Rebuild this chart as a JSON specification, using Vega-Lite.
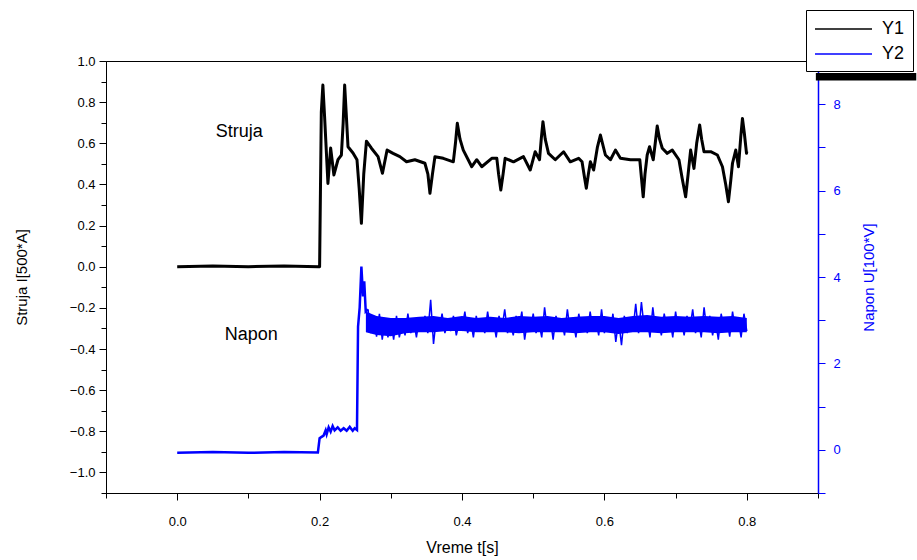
{
  "$schema": "https://vega.github.io/schema/vega-lite/v6.json",
  "width": 712,
  "height": 432,
  "autosize": {"type": "none"},
  "padding": {"left": 106, "top": 61, "right": 99, "bottom": 67},
  "background": "white",
  "config": {
    "view": {"stroke": "black", "strokeWidth": 1},
    "font": "Liberation Sans",
    "axis": {
      "grid": false,
      "labelFont": "Liberation Sans",
      "titleFont": "Liberation Sans",
      "titleFontWeight": "normal",
      "labelFontSize": 13,
      "titleFontSize": 15,
      "domainColor": "black",
      "tickColor": "black",
      "labelColor": "black",
      "titleColor": "black",
      "tickSize": 7,
      "labelFlush": false,
      "labelOverlap": false
    },
    "legend": {
      "orient": "none",
      "legendX": 700,
      "legendY": -51,
      "strokeColor": "black",
      "fillColor": "white",
      "padding": 8,
      "symbolType": "M-1,0H4.7",
      "symbolSize": 400,
      "symbolStrokeWidth": 1.4,
      "symbolFillColor": "transparent",
      "labelFont": "Liberation Sans",
      "labelFontSize": 18,
      "labelOffset": 46,
      "rowPadding": 5,
      "labelColor": "black"
    }
  },
  "datasets": {
    "struja": [
      {"t": 0, "I": 0}, {"t": 0.05, "I": 0.003}, {"t": 0.1, "I": 0}, {"t": 0.15, "I": 0.003}, {"t": 0.199, "I": 0},
      {"t": 0.2, "I": 0.0}, {"t": 0.2024, "I": 0.75}, {"t": 0.2046, "I": 0.883}, {"t": 0.207, "I": 0.73},
      {"t": 0.2117, "I": 0.405}, {"t": 0.2155, "I": 0.577}, {"t": 0.2201, "I": 0.446}, {"t": 0.2258, "I": 0.52},
      {"t": 0.2306, "I": 0.543}, {"t": 0.2331, "I": 0.7}, {"t": 0.2352, "I": 0.883}, {"t": 0.2373, "I": 0.75},
      {"t": 0.2399, "I": 0.583}, {"t": 0.2469, "I": 0.553}, {"t": 0.2525, "I": 0.52}, {"t": 0.2556, "I": 0.38},
      {"t": 0.2587, "I": 0.211}, {"t": 0.262, "I": 0.45}, {"t": 0.2658, "I": 0.61}, {"t": 0.2728, "I": 0.576},
      {"t": 0.2821, "I": 0.535}, {"t": 0.2883, "I": 0.454}, {"t": 0.2948, "I": 0.567}, {"t": 0.3032, "I": 0.551},
      {"t": 0.3127, "I": 0.535}, {"t": 0.3221, "I": 0.51}, {"t": 0.3338, "I": 0.52}, {"t": 0.3479, "I": 0.503},
      {"t": 0.3521, "I": 0.45}, {"t": 0.355, "I": 0.357}, {"t": 0.3585, "I": 0.45}, {"t": 0.362, "I": 0.535},
      {"t": 0.3737, "I": 0.527}, {"t": 0.3878, "I": 0.51}, {"t": 0.3908, "I": 0.6}, {"t": 0.3934, "I": 0.697},
      {"t": 0.3972, "I": 0.62}, {"t": 0.4018, "I": 0.567}, {"t": 0.4137, "I": 0.486}, {"t": 0.4207, "I": 0.52},
      {"t": 0.4277, "I": 0.486}, {"t": 0.4418, "I": 0.527}, {"t": 0.4489, "I": 0.527}, {"t": 0.4514, "I": 0.45},
      {"t": 0.4545, "I": 0.373}, {"t": 0.4577, "I": 0.45}, {"t": 0.4606, "I": 0.527}, {"t": 0.4723, "I": 0.51},
      {"t": 0.4863, "I": 0.535}, {"t": 0.4958, "I": 0.47}, {"t": 0.5028, "I": 0.559}, {"t": 0.5089, "I": 0.52},
      {"t": 0.5113, "I": 0.62}, {"t": 0.5137, "I": 0.705}, {"t": 0.5169, "I": 0.62}, {"t": 0.5215, "I": 0.551},
      {"t": 0.531, "I": 0.52}, {"t": 0.5427, "I": 0.559}, {"t": 0.5521, "I": 0.51}, {"t": 0.5638, "I": 0.527},
      {"t": 0.5686, "I": 0.51}, {"t": 0.5718, "I": 0.44}, {"t": 0.5746, "I": 0.381}, {"t": 0.5775, "I": 0.45},
      {"t": 0.5803, "I": 0.51}, {"t": 0.5849, "I": 0.47}, {"t": 0.5901, "I": 0.58}, {"t": 0.5944, "I": 0.64},
      {"t": 0.6014, "I": 0.543}, {"t": 0.6085, "I": 0.52}, {"t": 0.6155, "I": 0.567}, {"t": 0.6225, "I": 0.527},
      {"t": 0.6366, "I": 0.52}, {"t": 0.6497, "I": 0.52}, {"t": 0.6521, "I": 0.43}, {"t": 0.6545, "I": 0.34},
      {"t": 0.657, "I": 0.45}, {"t": 0.6601, "I": 0.543}, {"t": 0.6634, "I": 0.583}, {"t": 0.6686, "I": 0.52},
      {"t": 0.6714, "I": 0.6}, {"t": 0.6742, "I": 0.684}, {"t": 0.6775, "I": 0.62}, {"t": 0.6813, "I": 0.576},
      {"t": 0.6883, "I": 0.551}, {"t": 0.6954, "I": 0.567}, {"t": 0.7047, "I": 0.52}, {"t": 0.7092, "I": 0.43},
      {"t": 0.7141, "I": 0.34}, {"t": 0.7176, "I": 0.45}, {"t": 0.7211, "I": 0.567}, {"t": 0.7258, "I": 0.478},
      {"t": 0.7296, "I": 0.6}, {"t": 0.7338, "I": 0.689}, {"t": 0.7366, "I": 0.62}, {"t": 0.7399, "I": 0.559},
      {"t": 0.7493, "I": 0.559}, {"t": 0.7587, "I": 0.543}, {"t": 0.7658, "I": 0.486}, {"t": 0.7704, "I": 0.4},
      {"t": 0.7742, "I": 0.316}, {"t": 0.7775, "I": 0.42}, {"t": 0.7799, "I": 0.503}, {"t": 0.7845, "I": 0.567},
      {"t": 0.7883, "I": 0.486}, {"t": 0.7915, "I": 0.63}, {"t": 0.7939, "I": 0.721}, {"t": 0.7965, "I": 0.65},
      {"t": 0.7996, "I": 0.551}, {"t": 0.8, "I": 0.56}
    ],
    "naponStart": [
      {"t": 0, "U": -0.07}, {"t": 0.05, "U": -0.05}, {"t": 0.1, "U": -0.07}, {"t": 0.15, "U": -0.05}, {"t": 0.1976, "U": -0.06},
      {"t": 0.2, "U": 0.27}, {"t": 0.2028, "U": 0.3}, {"t": 0.2056, "U": 0.33}, {"t": 0.2085, "U": 0.45}, {"t": 0.2099, "U": 0.36},
      {"t": 0.2127, "U": 0.52}, {"t": 0.2155, "U": 0.42}, {"t": 0.2183, "U": 0.55}, {"t": 0.2211, "U": 0.45}, {"t": 0.2254, "U": 0.52},
      {"t": 0.2296, "U": 0.44}, {"t": 0.2338, "U": 0.5}, {"t": 0.238, "U": 0.44}, {"t": 0.2423, "U": 0.53}, {"t": 0.2465, "U": 0.44},
      {"t": 0.2493, "U": 0.5}, {"t": 0.2525, "U": 0.46}, {"t": 0.254, "U": 2.85}, {"t": 0.2563, "U": 3.3}, {"t": 0.2587, "U": 4.24},
      {"t": 0.261, "U": 3.55}, {"t": 0.2627, "U": 3.9}, {"t": 0.2648, "U": 3.2}, {"t": 0.268, "U": 3.25}
    ],
    "napon": [
      {"t": 0.268, "U": 3.25}, {"t": 0.272, "U": 2.7}, {"t": 0.276, "U": 3.1}, {"t": 0.28, "U": 2.62}, {"t": 0.284, "U": 3.15},
      {"t": 0.288, "U": 2.55}, {"t": 0.292, "U": 3.05}, {"t": 0.296, "U": 2.6}, {"t": 0.3, "U": 3.0}, {"t": 0.304, "U": 2.55},
      {"t": 0.308, "U": 3.1}, {"t": 0.312, "U": 2.6}, {"t": 0.316, "U": 2.95}, {"t": 0.32, "U": 2.65}, {"t": 0.324, "U": 3.15},
      {"t": 0.328, "U": 2.7}, {"t": 0.332, "U": 3.0}, {"t": 0.336, "U": 2.6}, {"t": 0.34, "U": 3.05}, {"t": 0.344, "U": 2.75},
      {"t": 0.348, "U": 3.1}, {"t": 0.352, "U": 2.7}, {"t": 0.356, "U": 3.47}, {"t": 0.36, "U": 2.45}, {"t": 0.364, "U": 3.05},
      {"t": 0.368, "U": 2.8}, {"t": 0.372, "U": 3.15}, {"t": 0.376, "U": 2.7}, {"t": 0.38, "U": 3.0}, {"t": 0.384, "U": 2.75},
      {"t": 0.388, "U": 3.1}, {"t": 0.392, "U": 2.65}, {"t": 0.396, "U": 2.95}, {"t": 0.4, "U": 2.8}, {"t": 0.404, "U": 3.2},
      {"t": 0.408, "U": 2.7}, {"t": 0.412, "U": 3.0}, {"t": 0.416, "U": 2.6}, {"t": 0.42, "U": 3.1}, {"t": 0.424, "U": 2.8},
      {"t": 0.428, "U": 2.95}, {"t": 0.432, "U": 2.7}, {"t": 0.436, "U": 3.2}, {"t": 0.44, "U": 2.75}, {"t": 0.444, "U": 3.0},
      {"t": 0.448, "U": 2.6}, {"t": 0.452, "U": 3.1}, {"t": 0.456, "U": 2.8}, {"t": 0.46, "U": 3.25}, {"t": 0.464, "U": 2.7},
      {"t": 0.468, "U": 2.95}, {"t": 0.472, "U": 2.65}, {"t": 0.476, "U": 3.1}, {"t": 0.48, "U": 2.8}, {"t": 0.484, "U": 3.2},
      {"t": 0.488, "U": 2.55}, {"t": 0.492, "U": 3.0}, {"t": 0.496, "U": 2.75}, {"t": 0.5, "U": 3.15}, {"t": 0.504, "U": 2.7},
      {"t": 0.508, "U": 2.95}, {"t": 0.512, "U": 2.6}, {"t": 0.516, "U": 3.3}, {"t": 0.52, "U": 2.75}, {"t": 0.524, "U": 3.05},
      {"t": 0.528, "U": 2.55}, {"t": 0.532, "U": 3.1}, {"t": 0.536, "U": 2.8}, {"t": 0.54, "U": 3.0}, {"t": 0.544, "U": 2.65},
      {"t": 0.548, "U": 3.25}, {"t": 0.552, "U": 2.75}, {"t": 0.556, "U": 3.0}, {"t": 0.56, "U": 2.6}, {"t": 0.564, "U": 3.15},
      {"t": 0.568, "U": 2.8}, {"t": 0.572, "U": 3.05}, {"t": 0.576, "U": 2.7}, {"t": 0.58, "U": 3.2}, {"t": 0.584, "U": 2.75},
      {"t": 0.588, "U": 3.0}, {"t": 0.592, "U": 2.65}, {"t": 0.596, "U": 3.25}, {"t": 0.6, "U": 2.7}, {"t": 0.604, "U": 3.05},
      {"t": 0.608, "U": 2.75}, {"t": 0.612, "U": 3.15}, {"t": 0.616, "U": 2.5}, {"t": 0.62, "U": 3.0}, {"t": 0.624, "U": 2.42},
      {"t": 0.628, "U": 3.1}, {"t": 0.632, "U": 2.7}, {"t": 0.636, "U": 3.0}, {"t": 0.64, "U": 2.75}, {"t": 0.644, "U": 3.38},
      {"t": 0.648, "U": 2.7}, {"t": 0.652, "U": 3.42}, {"t": 0.656, "U": 2.8}, {"t": 0.66, "U": 3.05}, {"t": 0.664, "U": 2.6},
      {"t": 0.668, "U": 3.3}, {"t": 0.672, "U": 2.75}, {"t": 0.676, "U": 3.0}, {"t": 0.68, "U": 2.65}, {"t": 0.684, "U": 3.15},
      {"t": 0.688, "U": 2.8}, {"t": 0.692, "U": 3.05}, {"t": 0.696, "U": 2.6}, {"t": 0.7, "U": 3.2}, {"t": 0.704, "U": 2.75},
      {"t": 0.708, "U": 3.0}, {"t": 0.712, "U": 2.65}, {"t": 0.716, "U": 3.1}, {"t": 0.72, "U": 2.8}, {"t": 0.724, "U": 3.25},
      {"t": 0.728, "U": 2.7}, {"t": 0.732, "U": 3.0}, {"t": 0.736, "U": 2.6}, {"t": 0.74, "U": 3.3}, {"t": 0.744, "U": 2.75},
      {"t": 0.748, "U": 3.1}, {"t": 0.752, "U": 2.65}, {"t": 0.756, "U": 3.0}, {"t": 0.76, "U": 2.55}, {"t": 0.764, "U": 3.15},
      {"t": 0.768, "U": 2.8}, {"t": 0.772, "U": 3.05}, {"t": 0.776, "U": 2.62}, {"t": 0.78, "U": 3.2}, {"t": 0.784, "U": 2.75},
      {"t": 0.788, "U": 3.0}, {"t": 0.792, "U": 2.6}, {"t": 0.796, "U": 3.15}, {"t": 0.8, "U": 2.75}
    ],
    "naponBand": [
      {"t": 0.265, "lo": 2.72, "hi": 3.2}, {"t": 0.28, "lo": 2.66, "hi": 3.1}, {"t": 0.3, "lo": 2.63, "hi": 3.05},
      {"t": 0.32, "lo": 2.7, "hi": 3.05}, {"t": 0.34, "lo": 2.72, "hi": 3.08}, {"t": 0.36, "lo": 2.72, "hi": 3.1},
      {"t": 0.38, "lo": 2.75, "hi": 3.05}, {"t": 0.4, "lo": 2.75, "hi": 3.1}, {"t": 0.42, "lo": 2.72, "hi": 3.05},
      {"t": 0.44, "lo": 2.72, "hi": 3.08}, {"t": 0.46, "lo": 2.72, "hi": 3.05}, {"t": 0.48, "lo": 2.7, "hi": 3.1},
      {"t": 0.5, "lo": 2.72, "hi": 3.08}, {"t": 0.52, "lo": 2.72, "hi": 3.1}, {"t": 0.54, "lo": 2.72, "hi": 3.05},
      {"t": 0.56, "lo": 2.7, "hi": 3.08}, {"t": 0.58, "lo": 2.72, "hi": 3.1}, {"t": 0.6, "lo": 2.72, "hi": 3.1},
      {"t": 0.62, "lo": 2.68, "hi": 3.05}, {"t": 0.64, "lo": 2.72, "hi": 3.1}, {"t": 0.66, "lo": 2.72, "hi": 3.12},
      {"t": 0.68, "lo": 2.7, "hi": 3.08}, {"t": 0.7, "lo": 2.72, "hi": 3.1}, {"t": 0.72, "lo": 2.72, "hi": 3.08},
      {"t": 0.74, "lo": 2.72, "hi": 3.1}, {"t": 0.76, "lo": 2.7, "hi": 3.08}, {"t": 0.78, "lo": 2.72, "hi": 3.1},
      {"t": 0.8, "lo": 2.72, "hi": 3.05}
    ]
  },
  "layer": [
    {
      "data": {"name": "struja"},
      "mark": {"type": "line", "strokeWidth": 3, "strokeJoin": "round"},
      "encoding": {
        "x": {
          "field": "t", "type": "quantitative",
          "scale": {"domain": [-0.1, 0.9], "nice": false, "zero": false},
          "axis": {
            "orient": "bottom", "title": "Vreme t[s]",
            "values": [-0.1, 0, 0.1, 0.2, 0.3, 0.4, 0.5, 0.6, 0.7, 0.8, 0.9],
            "labelExpr": "round(datum.value*10)%2==0 ? format(datum.value,'.1f') : ''",
            "tickSize": {"condition": {"test": "round(datum.value*10)%2!=0", "value": 5}, "value": 7},
            "labelPadding": 15, "titleFontSize": 16, "titlePadding": 11
          }
        },
        "y": {
          "field": "I", "type": "quantitative",
          "scale": {"domain": [-1.1, 1.0], "nice": false, "zero": false},
          "axis": {
            "orient": "left", "title": "Struja I[500*A]",
            "values": [-1.1, -1.0, -0.9, -0.8, -0.7, -0.6, -0.5, -0.4, -0.3, -0.2, -0.1, 0, 0.1, 0.2, 0.3, 0.4, 0.5, 0.6, 0.7, 0.8, 0.9, 1.0],
            "labelExpr": "round(datum.value*10)%2==0 ? format(datum.value,'.1f') : ''",
            "tickSize": {"condition": {"test": "round(datum.value*10)%2!=0", "value": 5}, "value": 7},
            "labelPadding": 4, "titlePadding": 40
          }
        },
        "color": {
          "datum": "Y1", "type": "nominal",
          "scale": {"domain": ["Y1", "Y2"], "range": ["black", "blue"]},
          "legend": {
            "title": null,
            "labelExpr": "datum.label + '\u00a0'",
            "encode": {"symbols": {"update": {"stroke": {"scale": "color", "field": "value"}}}}
          }
        }
      }
    },
    {
      "layer": [
        {
          "data": {"name": "naponBand"},
          "mark": {"type": "area", "color": "blue", "opacity": 1},
          "encoding": {
            "x": {"field": "t", "type": "quantitative"},
            "y": {"field": "lo", "type": "quantitative", "scale": {"domain": [-1, 9], "nice": false, "zero": false}},
            "y2": {"field": "hi"}
          }
        },
        {
          "data": {"name": "naponStart"},
          "mark": {"type": "line", "strokeWidth": 2.5, "color": "blue"},
          "encoding": {
            "x": {"field": "t", "type": "quantitative"},
            "y": {"field": "U", "type": "quantitative"}
          }
        },
        {
          "data": {"name": "napon"},
          "mark": {"type": "line", "strokeWidth": 1.5},
          "encoding": {
            "x": {"field": "t", "type": "quantitative"},
            "y": {
              "field": "U", "type": "quantitative",
              "scale": {"domain": [-1, 9], "nice": false, "zero": false},
              "axis": {
                "orient": "right", "title": "Napon U[100*V]",
                "values": [-1, 0, 1, 2, 3, 4, 5, 6, 7, 8, 9],
                "labelExpr": "datum.value>=0 && datum.value%2==0 ? format(datum.value,'d') : ''",
                "domainColor": "blue", "tickColor": "blue", "labelColor": "blue", "titleColor": "blue",
                "domainWidth": 1.5,
                "tickSize": 7, "labelPadding": 8, "titlePadding": 36, "titleAngle": 270
              }
            },
            "color": {"datum": "Y2", "type": "nominal"}
          }
        },
        {
          "data": {"values": [{"t": 0.087, "U": 7.36, "label": "Struja"}, {"t": 0.104, "U": 2.66, "label": "Napon"}]},
          "mark": {"type": "text", "fontSize": 18, "font": "Liberation Sans", "color": "black"},
          "encoding": {
            "x": {"field": "t", "type": "quantitative"},
            "y": {"field": "U", "type": "quantitative"},
            "text": {"field": "label"}
          }
        },
        {
          "data": {"values": [{"t": 0.897, "t2": 1.038, "U": 8.72, "U2": 8.55}]},
          "mark": {"type": "rect", "color": "black"},
          "encoding": {
            "x": {"field": "t", "type": "quantitative"},
            "x2": {"field": "t2"},
            "y": {"field": "U", "type": "quantitative"},
            "y2": {"field": "U2"}
          }
        }
      ]
    }
  ],
  "resolve": {"scale": {"y": "independent"}}
}
